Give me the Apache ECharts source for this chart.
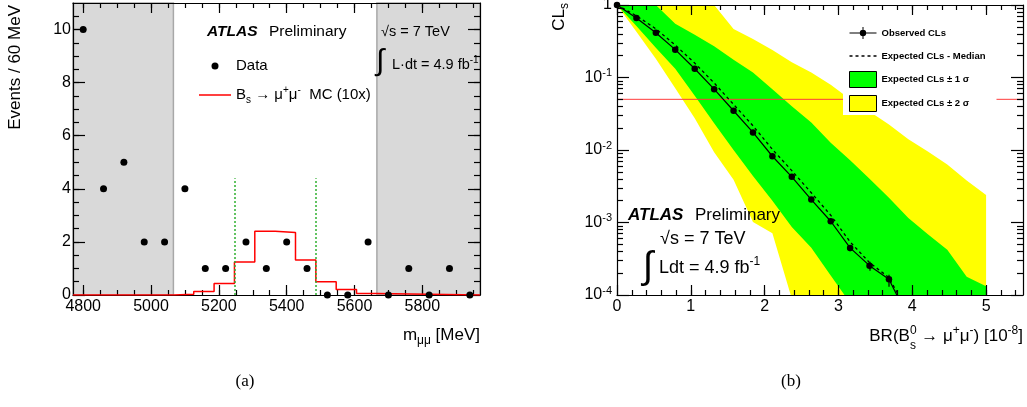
<!DOCTYPE html>
<html>
<head>
<meta charset="utf-8">
<script src="https://cdn.jsdelivr.net/npm/echarts@6.0.0/dist/echarts.min.js"></script>
<style>
  html, body { margin: 0; padding: 0; background: #fff; }
  #chart { width: 1027px; height: 407px; }
</style>
</head>
<body>
<div id="chart"></div>
<script>
// ---- (a) invariant mass, data and signal MC ----
var massCenters = [4800, 4860, 4920, 4980, 5040, 5100, 5160, 5220, 5280, 5340,
                   5400, 5460, 5520, 5580, 5640, 5700, 5760, 5820, 5880, 5940];
var dataEvents = [10, 4, 5, 2, 2, 4, 1, 1, 2, 1, 2, 1, 0, 0, 2, 0, 1, 0, 1, 0];
var mcEdges = [4770, 5066, 5126, 5186, 5246, 5306, 5366, 5426, 5486, 5546, 5606, 5666, 5970];
var mcEvents = [0, 0.03, 0.13, 0.43, 1.24, 2.40, 2.35, 1.32, 0.50, 0.21, 0.06, 0, 0];
var sidebands = [[4770, 5066], [5666, 5970]];
var signalWindow = [5246, 5486];
var signalLineTop = 4.4;
var massTicks = [4800, 5000, 5200, 5400, 5600, 5800];
var eventTicks = [0, 2, 4, 6, 8, 10];

// ---- (b) CLs versus BR ----
var brPoints = [0, 0.263, 0.526, 0.789, 1.053, 1.316, 1.579, 1.842, 2.105, 2.368,
                2.632, 2.895, 3.158, 3.421, 3.684, 3.947, 4.211, 4.474, 4.737, 5.0];
var clsObserved = [1, 0.66, 0.415, 0.242, 0.132, 0.069, 0.0348, 0.0175, 0.0082, 0.00426,
                   0.00207, 0.00104, 0.000446, 0.000254, 0.000165, 0.000048];
var clsObsErrors = [[3.158, 0.00040, 0.00049], [3.421, 0.000216, 0.000288], [3.684, 0.00013, 0.00019]];
var clsMedian = [1, 0.71, 0.47, 0.28, 0.158, 0.084, 0.0425, 0.0216, 0.0102, 0.0052,
                 0.00257, 0.00126, 0.00054, 0.00028, 0.000174, 0.000056];
var green1Up = [1, 1, 1, 0.55, 0.39, 0.27, 0.176, 0.117, 0.069, 0.040,
                0.024, 0.0126, 0.0072, 0.0040, 0.0022, 0.00115, 0.00069, 0.00042, 0.000178, 0.000132];
var green1Down = [1, 0.513, 0.257, 0.132, 0.0562, 0.0234, 0.0100, 0.00437, 0.0020, 0.00087,
                  0.000447, 0.000186, 0.0000776, 1e-5, 1e-5, 1e-5, 1e-5, 1e-5, 1e-5, 1e-5];
var yellow2Up = [1, 1, 1, 1, 1, 1, 0.468, 0.339, 0.24, 0.162,
                 0.1175, 0.0794, 0.0501, 0.0339, 0.0224, 0.0141, 0.0095, 0.0063, 0.0038, 0.0024];
var yellow2Down = [1, 0.427, 0.182, 0.0708, 0.0275, 0.0093, 0.0039, 0.00102, 0.00071, 0.000089,
                   1e-5, 1e-5, 1e-5, 1e-5, 1e-5, 1e-5, 1e-5, 1e-5, 1e-5, 1e-5];
var clsLimit = 0.05;
var brTicks = [0, 1, 2, 3, 4, 5];
var clsTicks = [1e-4, 1e-3, 1e-2, 1e-1, 1];

var FONT = '"Liberation Sans", Arial, Helvetica, sans-serif';
var chart = echarts.init(document.getElementById('chart'));

function steps(from, to, step) {
  var out = [];
  for (var v = from; v <= to + 1e-9; v += step) out.push(+v.toFixed(4));
  return out;
}
function logMinor(lo, hi) {
  var out = [];
  for (var d = lo; d < hi; d++)
    for (var k = 2; k <= 9; k++) out.push(+(k * Math.pow(10, d)).toPrecision(3));
  return out;
}

// one side of a panel frame: ROOT-style inside ticks; minor ticks go on a twin axis
function frame(grid, pos, type, min, max, values, len, line, label) {
  return {
    type: type, gridIndex: grid, position: pos, min: min, max: max, z: 3,
    axisLine: { show: line, onZero: false, lineStyle: { color: '#000', width: 1.2 } },
    axisTick: { show: true, inside: true, length: len, customValues: values,
                lineStyle: { color: '#000', width: 1.2 } },
    axisLabel: label || { show: false },
    splitLine: { show: false },
    splitArea: { show: false }
  };
}
function numLabel(values, margin) {
  return { show: true, customValues: values, margin: margin, color: '#000',
           fontSize: 16, fontFamily: FONT, formatter: function (v) { return String(v); } };
}

var supSub = function (size) {
  var s = Math.round(size * 0.68);
  return {
    sup: { fontSize: s, lineHeight: s, verticalAlign: 'top', fontFamily: FONT, fill: '#000', color: '#000' },
    sub: { fontSize: s, lineHeight: s, verticalAlign: 'bottom', fontFamily: FONT, fill: '#000', color: '#000' }
  };
};

function txt(x, y, text, size, opts) {
  opts = opts || {};
  var align = opts.align || 'left';
  return {
    type: 'text', x: x, y: y, z: 10, rotation: opts.rotation || 0,
    style: {
      text: text, fontSize: size, fontFamily: opts.family || FONT,
      fontWeight: opts.weight || 'normal', fontStyle: opts.style || 'normal',
      fill: '#000', lineHeight: Math.round(size * 1.35),
      align: align, textAlign: align, verticalAlign: 'middle', textVerticalAlign: 'middle',
      rich: supSub(size)
    }
  };
}

function bandRender(up, down) {
  return function (params, api) {
    var pts = [];
    for (var i = 0; i < brPoints.length; i++) pts.push(api.coord([brPoints[i], up[i]]));
    for (var j = brPoints.length - 1; j >= 0; j--) pts.push(api.coord([brPoints[j], down[j]]));
    return { type: 'polygon', shape: { points: pts }, style: { fill: api.visual('color') } };
  };
}

// x-axis title of panel (b): B_s^0 needs the s stacked under the 0
var ctx = document.createElement('canvas').getContext('2d');
function textWidth(t, size) { ctx.font = size + 'px ' + FONT; return ctx.measureText(t).width; }
var brTitle = [['BR(B', 17], ['0', 12], [' → μ', 17], ['+', 12], ['μ', 17], ['-', 12], [') [10', 17], ['-8', 12], [']', 17]];
var brTitleWidth = brTitle.reduce(function (s, p) { return s + textWidth(p[0], p[1]); }, 0);
var brTitleLeft = 1023 - brTitleWidth;
var brSubX = brTitleLeft + textWidth('BR(B', 17);

var option = {
  animation: false,
  backgroundColor: '#fff',
  textStyle: { fontFamily: FONT },
  grid: [
    { left: 73, top: 3, width: 407, height: 292, outerBoundsMode: 'none' },
    { left: 617, top: 5, width: 406, height: 290, outerBoundsMode: 'none' }
  ],
  xAxis: [
    frame(0, 'bottom', 'value', 4770, 5970, massTicks, 10, true, numLabel(massTicks, 4)),
    frame(0, 'bottom', 'value', 4770, 5970, steps(4800, 5950, 50), 5, false),
    frame(0, 'top', 'value', 4770, 5970, massTicks, 10, true),
    frame(0, 'top', 'value', 4770, 5970, steps(4800, 5950, 50), 5, false),
    frame(1, 'bottom', 'value', 0, 5.5, brTicks, 10, true, numLabel(brTicks, 4)),
    frame(1, 'bottom', 'value', 0, 5.5, steps(0.2, 5.4, 0.2), 5, false),
    frame(1, 'top', 'value', 0, 5.5, brTicks, 10, true),
    frame(1, 'top', 'value', 0, 5.5, steps(0.2, 5.4, 0.2), 5, false)
  ],
  yAxis: [
    frame(0, 'left', 'value', 0, 11, eventTicks, 12, true, numLabel(eventTicks, 2)),
    frame(0, 'left', 'value', 0, 11, steps(0.5, 10.5, 0.5), 6, false),
    frame(0, 'right', 'value', 0, 11, eventTicks, 12, true),
    frame(0, 'right', 'value', 0, 11, steps(0.5, 10.5, 0.5), 6, false),
    frame(1, 'left', 'log', 1e-4, 1, clsTicks, 12, true, {
      show: true, customValues: clsTicks, margin: 5, color: '#000',
      formatter: function (v) {
        var e = Math.round(Math.log(v) / Math.LN10);
        return e === 0 ? '{m|1}' : '{m|10}{e|' + e + '}';
      },
      rich: {
        m: { fontSize: 16, lineHeight: 20, fontFamily: FONT, color: '#000' },
        e: { fontSize: 11, lineHeight: 11, verticalAlign: 'top', fontFamily: FONT, color: '#000' }
      }
    }),
    frame(1, 'left', 'log', 1e-4, 1, logMinor(-4, 0), 6, false),
    frame(1, 'right', 'log', 1e-4, 1, clsTicks, 12, true),
    frame(1, 'right', 'log', 1e-4, 1, logMinor(-4, 0), 6, false)
  ],
  legend: [
    {
      left: 199, top: 56, orient: 'vertical', padding: 0, itemWidth: 32, itemHeight: 7,
      itemGap: 9, selectedMode: false,
      data: [{ name: 'Data', icon: 'circle' }, { name: 'MC', icon: 'path://M0,0L32,0L32,1.5L0,1.5Z' }],
      formatter: function (n) {
        return n === 'MC' ? 'B{sub|s} → μ{sup|+}μ{sup|-}  MC (10x)' : n;
      },
      textStyle: { color: '#000', fontSize: 15, fontFamily: FONT, lineHeight: 20, rich: supSub(15) }
    },
    {
      left: 843, top: 18, orient: 'vertical', padding: [7, 11, 3, 6], backgroundColor: '#fff',
      itemWidth: 27, itemHeight: 16, itemGap: 7, selectedMode: false, z: 7,
      data: [
        { name: 'Observed CLs',
          icon: 'path://M0,7.4L27,7.4L27,8.6L0,8.6Z M13,2L14,2L14,14L13,14Z M10.3,8A3.2,3.2 0 1 1 16.7,8A3.2,3.2 0 1 1 10.3,8Z' },
        { name: 'Expected CLs - Median',
          icon: 'path://M0,0h3v1.3h-3z M6,0h3v1.3h-3z M12,0h3v1.3h-3z M18,0h3v1.3h-3z M24,0h3v1.3h-3z' },
        { name: 'Expected CLs ± 1 σ', icon: 'rect', itemStyle: { borderColor: '#000', borderWidth: 1 } },
        { name: 'Expected CLs ± 2 σ', icon: 'rect', itemStyle: { borderColor: '#000', borderWidth: 1 } }
      ],
      textStyle: { color: '#000', fontSize: 9.5, fontWeight: 'bold', fontFamily: FONT, lineHeight: 16 }
    }
  ],
  series: [
    // sideband shading and signal window markers
    {
      name: 'regions', type: 'line', xAxisIndex: 0, yAxisIndex: 0, data: [], z: 1, silent: true,
      markArea: {
        silent: true,
        itemStyle: { color: '#d9d9d9', borderColor: '#a8a8a8', borderWidth: 1.5 },
        data: sidebands.map(function (b) { return [{ coord: [b[0], 0] }, { coord: [b[1], 11] }]; })
      },
      markLine: {
        silent: true, symbol: ['none', 'none'], label: { show: false },
        lineStyle: { color: '#2fb02f', type: [2, 2], width: 1.5 },
        data: signalWindow.map(function (m) { return [{ coord: [m, 0] }, { coord: [m, signalLineTop] }]; })
      }
    },
    {
      name: 'MC', type: 'line', step: 'end', xAxisIndex: 0, yAxisIndex: 0, z: 4,
      showSymbol: false, symbol: 'none', color: '#ff0000',
      lineStyle: { color: '#ff0000', width: 1.5 },
      data: mcEdges.map(function (m, i) { return [m, mcEvents[i]]; })
    },
    {
      name: 'Data', type: 'scatter', xAxisIndex: 0, yAxisIndex: 0, z: 5,
      symbol: 'circle', symbolSize: 7, itemStyle: { color: '#000', opacity: 1 },
      data: massCenters.map(function (m, i) { return [m, dataEvents[i]]; })
    },
    // CLs bands
    {
      name: 'Expected CLs ± 2 σ', type: 'custom', xAxisIndex: 4, yAxisIndex: 4, z: 1, clip: true,
      silent: true, itemStyle: { color: '#ffff00' }, data: [[0, 1]],
      renderItem: bandRender(yellow2Up, yellow2Down)
    },
    {
      name: 'Expected CLs ± 1 σ', type: 'custom', xAxisIndex: 4, yAxisIndex: 4, z: 1, clip: true,
      silent: true, itemStyle: { color: '#00ff00' }, data: [[0, 1]],
      renderItem: bandRender(green1Up, green1Down)
    },
    {
      name: 'limit', type: 'line', xAxisIndex: 4, yAxisIndex: 4, z: 2, symbol: 'none',
      lineStyle: { color: '#ff3c3c', width: 1 }, data: [[0, clsLimit], [5.5, clsLimit]]
    },
    {
      name: 'Expected CLs - Median', type: 'line', xAxisIndex: 4, yAxisIndex: 4, z: 4,
      symbol: 'none', color: '#000', clip: true,
      lineStyle: { color: '#000', width: 1.3, type: [3, 3] },
      data: brPoints.slice(0, clsMedian.length).map(function (b, i) { return [b, clsMedian[i]]; })
    },
    {
      name: 'Observed CLs', type: 'line', xAxisIndex: 4, yAxisIndex: 4, z: 5,
      symbol: 'circle', symbolSize: 6.5, color: '#000', clip: true,
      itemStyle: { color: '#000' }, lineStyle: { color: '#000', width: 1.2 },
      data: brPoints.slice(0, clsObserved.length).map(function (b, i) { return [b, clsObserved[i]]; })
    },
    {
      name: 'obsErr', type: 'custom', xAxisIndex: 4, yAxisIndex: 4, z: 5, silent: true,
      itemStyle: { color: '#000' }, data: clsObsErrors,
      renderItem: function (params, api) {
        var lo = api.coord([api.value(0), api.value(1)]), hi = api.coord([api.value(0), api.value(2)]);
        return { type: 'rect', shape: { x: Math.round(lo[0]) - 0.6, y: hi[1], width: 1.2, height: lo[1] - hi[1] },
                 style: { fill: '#000' } };
      }
    }
  ],
  graphic: [
    // panel (a)
    txt(207, 32, 'ATLAS', 15.5, { weight: 'bold', style: 'italic' }),
    txt(269, 32, 'Preliminary', 15.5),
    txt(381, 32, '√s = 7 TeV', 14.5),
    txt(380, 62, '∫', 30, { align: 'center' }),
    txt(392, 65, 'L·dt = 4.9 fb{sup|-1}', 14.5),
    txt(15.5, 5, 'Events / 60 MeV', 17, { align: 'right', rotation: Math.PI / 2 }),
    txt(480, 335, 'm{sub|μμ} [MeV]', 17, { align: 'right' }),
    txt(245, 382, '(a)', 17, { align: 'center', family: '"Liberation Serif", "Times New Roman", serif' }),
    // panel (b)
    txt(628, 215, 'ATLAS', 17, { weight: 'bold', style: 'italic' }),
    txt(695, 215, 'Preliminary', 17),
    txt(660, 239, '√s = 7 TeV', 18),
    txt(648, 268, '∫', 38, { align: 'center' }),
    txt(659, 268, 'Ldt = 4.9 fb{sup|-1}', 18),
    txt(559, 3, 'CL{sub|s}', 17, { align: 'right', rotation: Math.PI / 2 }),
    txt(brTitleLeft, 336, 'BR(B{sup|0} → μ{sup|+}μ{sup|-}) [10{sup|-8}]', 17),
    txt(brSubX, 346, 's', 12),
    txt(791, 382, '(b)', 17, { align: 'center', family: '"Liberation Serif", "Times New Roman", serif' })
  ]
};

chart.setOption(option);
</script>
</body>
</html>
